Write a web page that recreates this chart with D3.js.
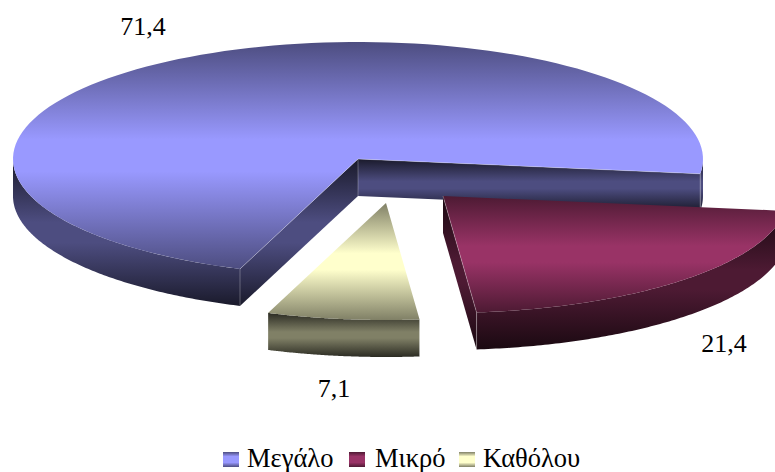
<!DOCTYPE html>
<html><head><meta charset="utf-8">
<script src="https://cdn.jsdelivr.net/npm/d3@7"></script>
<style>html,body{margin:0;padding:0;background:#fff;overflow:hidden}svg{display:block}text{font-family:"Liberation Serif",serif;fill:#000}</style>
</head><body><svg id="c" width="775" height="472"></svg>
<script>
const categories = ["Μεγάλο","Μικρό","Καθόλου"];
const seriesValues = [71.4,21.4,7.1];
const valueLabels = ["71,4","21,4","7,1"];
const baseColors = ["#9999ff","#993366","#ffffcc"];

// layout
const rx=345, ry=117, depth=37;
const apexes=[[358,159],[443,196],[386,203]];
const labelPos=[[143,35],[724,352],[334,397]];
const legendPos=[[223,247],[349,375],[459,483]];
const rad=Math.PI/180;
const firstSliceT=110; // screen angle (clockwise from +x) where the first slice begins

const svg=d3.select("#c"), defs=svg.append("defs");
const pie=d3.pie().sort(null).startAngle((firstSliceT+90)*rad).endAngle((firstSliceT+450)*rad);
const arcs=pie(seriesValues);
const toT=a=>a-Math.PI/2;
const line=d3.line();

function grad(id,stops){
  const g=defs.append("linearGradient").attr("id",id).attr("x1",0).attr("y1",0).attr("x2",0).attr("y2",1);
  stops.forEach(([o,c])=>g.append("stop").attr("offset",o).attr("stop-color",c));
}
const mix=(c,k)=>d3.interpolateRgb("#000",c)(k);
baseColors.forEach((c,i)=>{
  grad("top"+i,[[0,mix(c,.5)],[.43,c],[.57,c],[1,mix(c,.5)]]);
  grad("side"+i,[[0,mix(c,.17)],[.43,mix(c,.5)],[.57,mix(c,.5)],[1,mix(c,.17)]]);
  grad("lg"+i,[[0,mix(c,.5)],[.3,c],[.7,c],[1,mix(c,.5)]]);
});

arcs.forEach((d,i)=>{
  const [cx,cy]=apexes[i];
  const t0=toT(d.startAngle), t1=toT(d.endAngle);
  const P=(t,h=0)=>[cx+rx*Math.cos(t),cy+ry*Math.sin(t)+h];
  const samples=(a,b,h=0)=>d3.range(0,121).map(k=>P(a+(b-a)*k/120,h));
  const g=svg.append("g");
  // radial cut walls whose outward side faces the viewer
  const apex=[cx,cy], apexLow=[cx,cy+depth];
  [t0,t1].forEach((t,j)=>{
    const end=P(t), endLow=P(t,depth);
    const outwardY=(end[0]-cx)*(j?1:-1);
    if(outwardY>0){
      g.append("path").attr("d",line([apex,end,endLow,apexLow])+"Z").attr("fill",`url(#side${i})`);
    }
  });
  // outer rim: front half of the ellipse only
  const fronts=[];
  for(let k=-1;k<=2;k++){
    const a=Math.max(t0,k*2*Math.PI), b=Math.min(t1,k*2*Math.PI+Math.PI);
    if(b>a) fronts.push([a,b]);
  }
  fronts.forEach(([a,b])=>{
    g.append("path").attr("d",line(samples(a,b).concat(samples(b,a,depth)))+"Z").attr("fill",`url(#side${i})`);
  });
  // top face
  g.append("path").attr("d",line([apex].concat(samples(t0,t1)))+"Z").attr("fill",`url(#top${i})`);
  // thin edge highlights
  const edges=[];
  [t0,t1].forEach(t=>{ if(Math.sin(t)>0){ edges.push([P(t),P(t,depth)]); } });
  if(i===0){ edges.push([apex,apexLow],[apex,P(t0)],[apex,P(t1)]); }
  if(i===1){ edges.push([apex,P(t1)]); }
  edges.forEach(e=>g.append("path").attr("d",line(e)).attr("fill","none").attr("stroke","#fff").attr("stroke-opacity",.28).attr("stroke-width",1));
});

valueLabels.forEach((t,i)=>svg.append("text").attr("x",labelPos[i][0]).attr("y",labelPos[i][1]).attr("text-anchor","middle").attr("font-size",26).text(t));

categories.forEach((c,i)=>{
  svg.append("rect").attr("x",legendPos[i][0]).attr("y",452).attr("width",16).attr("height",15).attr("fill",`url(#lg${i})`);
  svg.append("text").attr("x",legendPos[i][1]).attr("y",467).attr("font-size",26.5).text(c);
});
</script></body></html>
